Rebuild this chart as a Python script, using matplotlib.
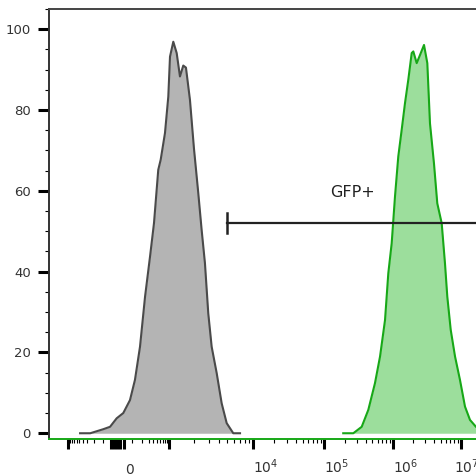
import numpy as np
import matplotlib.pyplot as plt
from matplotlib.ticker import MultipleLocator
from matplotlib.transforms import ScaledTranslation

# gray = control, green = GFP sample (fluorescence vs % of max)
ctrl_x = [-480, -250, -95, -44, -2, 37, 82, 123, 175, 242, 328, 416, 535, 617, 792, 960,
          1028, 1126, 1236, 1353, 1482, 1596, 1782, 1989, 2239, 2458, 2691, 2948, 3238,
          3716, 4263, 4893, 5864, 7059]
ctrl_y = [0, 0, 1.0, 1.6, 3.7, 5.0, 8.2, 13.2, 21.4, 33.8, 43.7, 52.0, 65.2, 67.7, 74.3, 83.3,
          93.2, 96.9, 94.1, 88.3, 91.0, 90.5, 82.5, 70.5, 59.5, 50.3, 42.1, 29.7, 21.4,
          14.9, 7.4, 2.5, 0, 0]

gfp_x = [1.9e5, 2.66e5, 3.52e5, 4.39e5, 5.48e5, 6.49e5, 7.66e5, 8.55e5, 9.57e5, 1.07e6,
         1.196e6, 1.342e6, 1.501e6, 1.679e6, 1.884e6, 1.989e6, 2.231e6, 2.494e6, 2.858e6,
         3.196e6, 3.498e6, 4.004e6, 4.48e6, 5.2e6, 5.81e6, 6.29e6, 7.06e6, 8.17e6, 9.66e6,
         1.145e7, 1.356e7, 1.66e7, 2.25e7, 3.2e7]
gfp_y = [0, 0, 1.6, 5.8, 12.4, 19.0, 28.0, 39.6, 47.0, 58.6, 68.5, 75.1, 81.7, 87.5, 94.1,
         94.5, 91.6, 93.6, 96.1, 91.6, 76.7, 66.8, 56.9, 52.0, 42.1, 33.8, 25.6, 19.0, 13.2,
         6.6, 3.3, 1.6, 0.3, 0]

gate_lo = 4900
gate_y = 52
gate_label = 'GFP+'
gate_label_x = 2.55e5
gate_label_y = 59.5

tick_vals = [-1e3, -40, -20, 0, 20, 40, 1e3, 1e4, 1e5, 1e6, 1e7]
tick_labels = ['', '', '', '0', '', '', '', '$10^4$', '$10^5$', '$10^6$', '$10^7$']
minor_vals = ([-k * 100 for k in range(1, 10)] + [k * 100 for k in range(1, 10)]
              + [k * 10 ** e for e in range(3, 7) for k in range(2, 10)])

# biexponential-like display scale (breakpoints in display units ~ pixels)
biex_vals = np.array([-1e4, -1e3, 0, 1e3, 1e4, 1e5, 1e6, 1e7, 1e8])
biex_pos = np.array([30.9, 68.3, 117, 169, 252.7, 324, 393, 461, 529])
biex_a = np.arcsinh(biex_vals / 100)


def fwd(x):
    return np.interp(np.arcsinh(np.asarray(x, float) / 100), biex_a, biex_pos)


def inv(p):
    return 100 * np.sinh(np.interp(np.asarray(p, float), biex_pos, biex_a))


plt.rcParams['font.family'] = 'DejaVu Sans'

fig = plt.figure(figsize=(4.76, 4.76), dpi=100)
ax = fig.add_axes([49.3 / 476, (476 - 438.5) / 476, (480 - 49.3) / 476, (438.5 - 9) / 476])
ax.set_xscale('function', functions=(fwd, inv))
ax.set_xlim(inv(49.3), inv(480))
ax.set_ylim(-1.3, 105)

ax.fill_between(ctrl_x, ctrl_y, 0, color='#b4b4b4', lw=0)
ax.plot(ctrl_x, ctrl_y, color='#4a4a4a', lw=1.5)
ax.fill_between(gfp_x, gfp_y, 0, color='#9cde9c', lw=0)
ax.plot(gfp_x, gfp_y, color='#17a817', lw=1.5)

# gate
ax.plot([gate_lo, 1e8], [gate_y, gate_y], color='#222222', lw=1.6)
ax.plot([gate_lo, gate_lo], [gate_y - 2.5, gate_y + 2.5], color='#222222', lw=1.8)
ax.text(gate_label_x, gate_label_y, gate_label, ha='center', va='center',
        fontsize=11.5, color='#222222')

ax.spines['right'].set_visible(False)
ax.spines['left'].set_color('#333333')
ax.spines['top'].set_color('#444444')
ax.spines['bottom'].set_color('#17a817')
for s in ['left', 'top', 'bottom']:
    ax.spines[s].set_linewidth(1.4)

ax.set_xticks(tick_vals)
ax.set_xticklabels(tick_labels)
ax.set_xticks(minor_vals, minor=True)
ax.set_yticks(range(0, 101, 20))
ax.yaxis.set_minor_locator(MultipleLocator(5))

ax.tick_params(axis='x', which='major', length=7.2, width=2.2, pad=18,
               labelsize=10, labelcolor='#333333')
ax.tick_params(axis='x', which='minor', length=3, width=0.8)
ax.tick_params(axis='y', which='major', length=7.9, width=2.2, pad=5.5,
               labelsize=9.5, labelcolor='#333333')
ax.tick_params(axis='y', which='minor', length=3, width=0.8)

label_dx = [13] * 10 + [5.5]
for lab, dx in zip(ax.get_xticklabels(), label_dx):
    lab.set_va('baseline')
    lab.set_transform(lab.get_transform() + ScaledTranslation(dx / 100, 0, fig.dpi_scale_trans))

fig.savefig('out.png', dpi=100)
